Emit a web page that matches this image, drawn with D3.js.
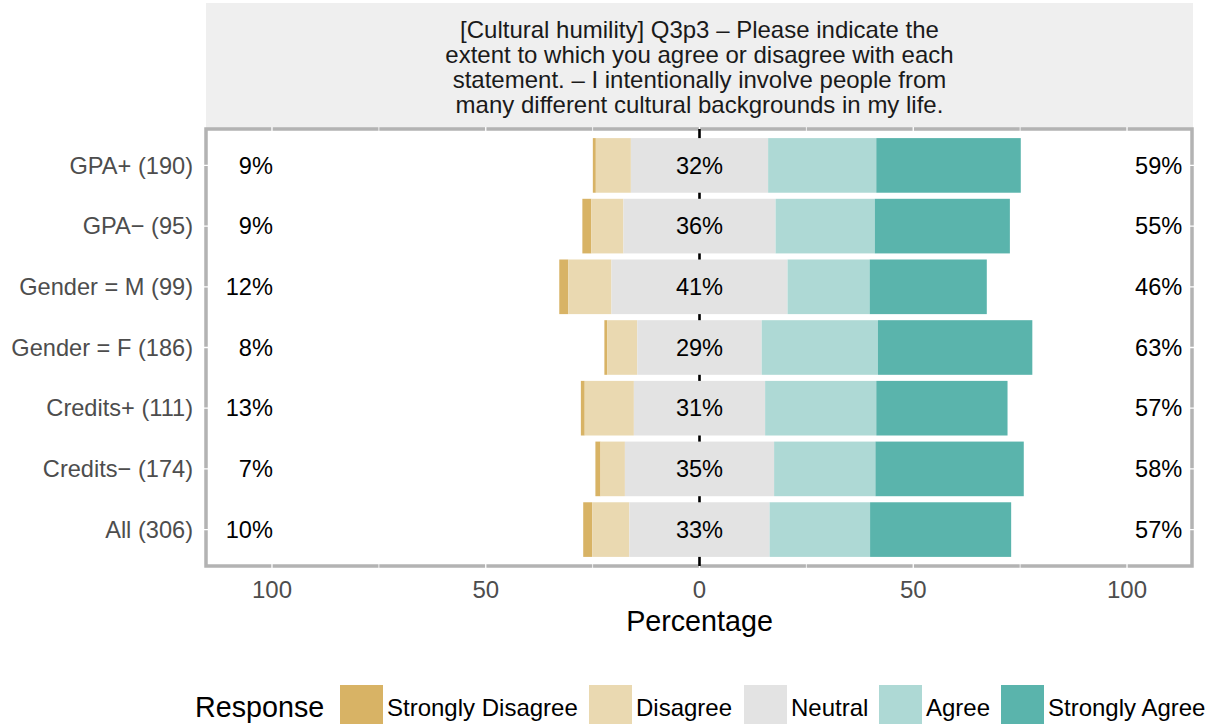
<!DOCTYPE html>
<html><head><meta charset="utf-8">
<script src="https://cdn.jsdelivr.net/npm/d3@7"></script>
<style>body{margin:0;background:#fff;} text{font-family:"Liberation Sans",Arial,Helvetica,sans-serif;}</style>
</head><body><svg id="c" width="1215" height="724"></svg>
<script>
const categories = ["GPA+ (190)", "GPA\u2212 (95)", "Gender = M (99)", "Gender = F (186)", "Credits+ (111)", "Credits\u2212 (174)", "All (306)"];
const responses = ["Strongly Disagree", "Disagree", "Neutral", "Agree", "Strongly Agree"];
const stronglyDisagree = [0.7, 2.1, 2.1, 0.7, 0.9, 1.2, 2.1];
const disagree         = [8.2, 7.5, 10.1, 7.0, 11.5, 5.7, 8.7];
const neutral          = [32.1, 35.6, 41.2, 29.1, 30.7, 34.9, 32.8];
const agree            = [25.3, 23.2, 19.2, 27.2, 26.0, 23.7, 23.5];
const stronglyAgree    = [33.8, 31.6, 27.4, 36.1, 30.7, 34.7, 33.0];
const lowLabels     = ["9%", "9%", "12%", "8%", "13%", "7%", "10%"];
const neutralLabels = ["32%", "36%", "41%", "29%", "31%", "35%", "33%"];
const highLabels    = ["59%", "55%", "46%", "63%", "57%", "58%", "57%"];
const xTicks = [-100, -50, 0, 50, 100];
const xMinor = [-75, -25, 25, 75];
const xTickLabels = ["100", "50", "0", "50", "100"];
const colors = ["#D8B365", "#EAD9B1", "#E3E3E3", "#AED9D5", "#5AB4AC"];
const titleLines = [
  "[Cultural humility] Q3p3 \u2013 Please indicate the",
  "extent to which you agree or disagree with each",
  "statement. \u2013 I intentionally involve people from",
  "many different cultural backgrounds in my life."
];
const xTitle = "Percentage";
const legendTitle = "Response";

const svg = d3.select("#c");
const x = d3.scaleLinear().domain([-115.2, 115.2]).range([207, 1192]);
const y = d3.scaleBand().domain(categories).range([129, 566]).paddingInner(0.1).paddingOuter(0.15);
const [px0, px1] = x.range();
const [py0, py1] = y.range();
const FS = 24;

// strip
svg.append("rect").attr("x", px0 - 1).attr("y", 3).attr("width", px1 - px0 + 2).attr("height", 125).attr("fill", "#EFEFEF");
svg.append("g").selectAll("text").data(titleLines).join("text")
  .attr("x", x(0)).attr("y", (d, i) => 38 + i * 25)
  .attr("text-anchor", "middle").attr("font-size", FS).attr("fill", "#1A1A1A").text(d => d);

// panel background with border
svg.append("rect").attr("x", px0 - 1).attr("y", py0).attr("width", px1 - px0 + 1).attr("height", py1 - py0)
  .attr("fill", "#fff").attr("stroke", "#B3B3B3").attr("stroke-width", 3.5);

// gridlines (white)
const grid = svg.append("g").attr("stroke", "#fff");
grid.selectAll(".vmaj").data(xTicks).join("line").attr("x1", d => x(d)).attr("x2", d => x(d))
  .attr("y1", py0 - 2).attr("y2", py1 + 2).attr("stroke-width", 1.3);
grid.selectAll(".vmin").data(xMinor).join("line").attr("x1", d => x(d)).attr("x2", d => x(d))
  .attr("y1", py0 - 2).attr("y2", py1 + 2).attr("stroke-width", 0.8);
grid.selectAll(".h").data(categories).join("line").attr("y1", d => y(d) + y.bandwidth() / 2).attr("y2", d => y(d) + y.bandwidth() / 2)
  .attr("x1", px0 - 3).attr("x2", px1 + 2).attr("stroke-width", 1.3);

// center line
svg.append("line").attr("x1", x(0)).attr("x2", x(0)).attr("y1", py0).attr("y2", py1)
  .attr("stroke", "#000").attr("stroke-width", 2.6);

// bars
const rows = categories.map((c, i) => {
  const vals = [stronglyDisagree[i], disagree[i], neutral[i], agree[i], stronglyAgree[i]];
  const segs = [];
  let left = -vals[2] / 2 - vals[1] - vals[0];
  vals.forEach((v, k) => { segs.push({ cat: c, k, x0: left, x1: left + v }); left += v; });
  return segs;
}).flat();
svg.append("g").selectAll("rect").data(rows).join("rect")
  .attr("x", d => x(d.x0)).attr("width", d => x(d.x1) - x(d.x0))
  .attr("y", d => y(d.cat)).attr("height", y.bandwidth())
  .attr("fill", d => colors[d.k]);

// labels
const lab = svg.append("g").attr("font-size", 23.6).attr("fill", "#000");
lab.selectAll(".n").data(categories).join("text")
  .attr("x", x(0)).attr("y", d => y(d) + y.bandwidth() / 2).attr("dy", "0.35em")
  .attr("text-anchor", "middle").text((d, i) => neutralLabels[i]);
lab.selectAll(".l").data(categories).join("text")
  .attr("x", x(-100) + 1).attr("y", d => y(d) + y.bandwidth() / 2).attr("dy", "0.35em")
  .attr("text-anchor", "end").text((d, i) => lowLabels[i]);
lab.selectAll(".r").data(categories).join("text")
  .attr("x", x(100) + 8).attr("y", d => y(d) + y.bandwidth() / 2).attr("dy", "0.35em")
  .attr("text-anchor", "start").text((d, i) => highLabels[i]);

// y axis labels
svg.append("g").selectAll("text").data(categories).join("text")
  .attr("x", 193).attr("y", d => y(d) + y.bandwidth() / 2).attr("dy", "0.35em")
  .attr("text-anchor", "end").attr("font-size", 23.6).attr("fill", "#4D4D4D").text(d => d);

// x axis labels
svg.append("g").selectAll("text").data(xTicks).join("text")
  .attr("x", d => x(d)).attr("y", 598).attr("text-anchor", "middle")
  .attr("font-size", FS).attr("fill", "#4D4D4D").text((d, i) => xTickLabels[i]);
svg.append("text").attr("x", x(0)).attr("y", 631).attr("text-anchor", "middle")
  .attr("font-size", 28.7).attr("fill", "#000").text(xTitle);

// legend
svg.append("text").attr("x", 195).attr("y", 717).attr("font-size", 28.7).attr("fill", "#000").text(legendTitle);
const keyX = [340, 589, 744, 879, 1001];
const lg = svg.append("g").selectAll("g").data(responses).join("g");
lg.append("rect").attr("x", (d, i) => keyX[i]).attr("y", 685).attr("width", 43).attr("height", 43)
  .attr("fill", (d, i) => colors[i]);
lg.append("text").attr("x", (d, i) => keyX[i] + 47).attr("y", 716).attr("font-size", FS).attr("fill", "#000").text(d => d);
</script></body></html>
